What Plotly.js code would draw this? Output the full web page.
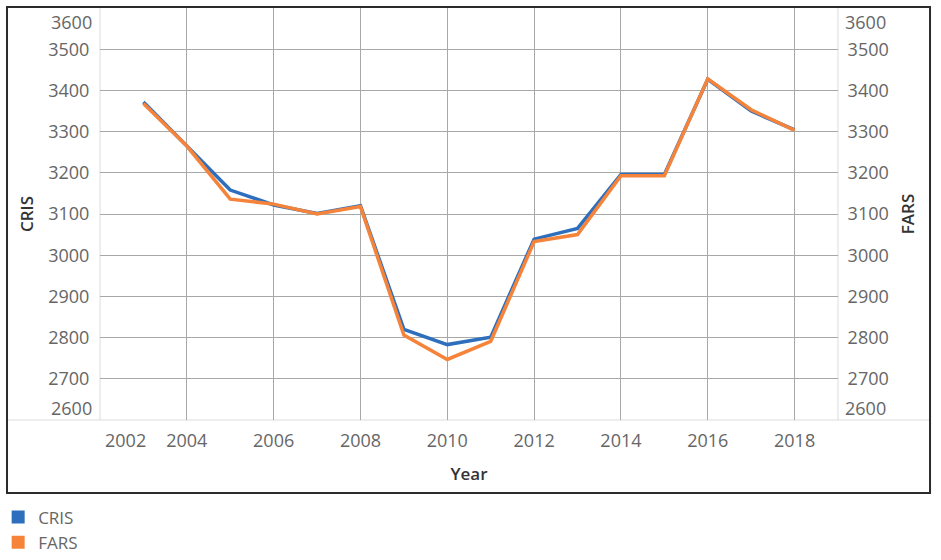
<!DOCTYPE html>
<html>
<head>
<meta charset="utf-8">
<script src="https://cdn.plot.ly/plotly-3.0.1.min.js"></script>
<style>html,body{margin:0;padding:0;background:#fff;}#chart{width:941px;height:560px;}</style>
</head>
<body>
<div id="chart"></div>
<script>
// ---- data ----
var years = [2003, 2004, 2005, 2006, 2007, 2008, 2009, 2010, 2011, 2012, 2013, 2014, 2015, 2016, 2017, 2018];
var cris  = [3372, 3266, 3158, 3122, 3101, 3120, 2820, 2783, 2801, 3039, 3065, 3196, 3196, 3427, 3350, 3304];
var fars  = [3368, 3265, 3136, 3124, 3100, 3118, 2806, 2747, 2791, 3033, 3050, 3193, 3193, 3428, 3353, 3303];
var xTicks = [2002, 2004, 2006, 2008, 2010, 2012, 2014, 2016, 2018];
var yTicks = [2600, 2700, 2800, 2900, 3000, 3100, 3200, 3300, 3400, 3500, 3600];
var seriesNames = ['CRIS', 'FARS'];
var xTitle = 'Year';

// ---- styling ----
var blue = '#2e6fbd', orange = '#f5843a';
var tickFont = {family: 'Open Sans, sans-serif', size: 18, color: '#666666'};
var titleFont = {family: 'Open Sans, sans-serif', size: 17, color: '#333333', weight: 600};
var gridColor = '#a8a8a8', edgeColor = '#dcdcdc';

var yMin = yTicks[0], yMax = yTicks[yTicks.length - 1];
var innerY = yTicks.slice(1, -1);
var innerX = xTicks.slice(1);

var traces = [
  {x: years, y: cris, name: seriesNames[0], type: 'scatter', mode: 'lines', yaxis: 'y',
   line: {color: blue, width: 3.5}, showlegend: false, hoverinfo: 'skip'},
  {x: years, y: fars, name: seriesNames[1], type: 'scatter', mode: 'lines', yaxis: 'y2',
   line: {color: orange, width: 3.5}, showlegend: false, hoverinfo: 'skip'},
  {x: [null], y: [null], name: seriesNames[0], type: 'scatter', mode: 'markers',
   marker: {symbol: 'square', size: 13, color: blue}, showlegend: true},
  {x: [null], y: [null], name: seriesNames[1], type: 'scatter', mode: 'markers',
   marker: {symbol: 'square', size: 13, color: orange}, showlegend: true}
];

// end-of-axis tick labels, nudged inward like the reference
var annotations = [
  {x: 0, xref: 'paper', y: yTicks[yTicks.length - 1], yref: 'y', text: String(yTicks[yTicks.length - 1]),
   xanchor: 'right', yanchor: 'middle', xshift: -6, yshift: -14, showarrow: false, font: tickFont},
  {x: 0, xref: 'paper', y: yTicks[0], yref: 'y', text: String(yTicks[0]),
   xanchor: 'right', yanchor: 'middle', xshift: -6, yshift: 12, showarrow: false, font: tickFont},
  {x: 1, xref: 'paper', y: yTicks[yTicks.length - 1], yref: 'y', text: String(yTicks[yTicks.length - 1]),
   xanchor: 'left', yanchor: 'middle', xshift: 5, yshift: -14, showarrow: false, font: tickFont},
  {x: 1, xref: 'paper', y: yTicks[0], yref: 'y', text: String(yTicks[0]),
   xanchor: 'left', yanchor: 'middle', xshift: 5, yshift: 12, showarrow: false, font: tickFont},
  {x: xTicks[0], xref: 'x', y: 0, yref: 'paper', text: String(xTicks[0]),
   xanchor: 'center', yanchor: 'middle', xshift: 25, yshift: -20, showarrow: false, font: tickFont}
];

var shapes = [
  // outer frame
  {type: 'rect', xref: 'paper', yref: 'paper', x0: -0.126, x1: 1.1247, y0: -0.1772, y1: 1.0024,
   line: {color: '#2b2b2b', width: 2}, layer: 'above'},
  // plot edges
  {type: 'line', xref: 'paper', yref: 'paper', x0: -0.126, x1: 1.1247, y0: 0, y1: 0,
   line: {color: edgeColor, width: 1}, layer: 'below'},
  {type: 'line', xref: 'paper', yref: 'paper', x0: 0, x1: 0, y0: 0, y1: 1,
   line: {color: edgeColor, width: 1}, layer: 'below'},
  {type: 'line', xref: 'paper', yref: 'paper', x0: 1, x1: 1, y0: 0, y1: 1,
   line: {color: edgeColor, width: 1}, layer: 'below'}
];

var layout = {
  width: 941, height: 560,
  margin: {l: 100, r: 103, t: 8, b: 140, autoexpand: false},
  paper_bgcolor: '#ffffff', plot_bgcolor: '#ffffff',
  font: {family: 'Open Sans, sans-serif', color: '#555555'},
  xaxis: {
    range: [2002, 2019], tickvals: innerX, ticktext: innerX.map(String), automargin: false,
    showgrid: true, gridcolor: gridColor, gridwidth: 1, zeroline: false, showline: false,
    ticks: 'outside', ticklen: 4, tickcolor: 'rgba(0,0,0,0)', tickfont: tickFont,
    title: {text: xTitle, font: titleFont, standoff: 17}, fixedrange: true
  },
  yaxis: {
    range: [yMin, yMax], tickvals: innerY, ticktext: innerY.map(String), automargin: false,
    showgrid: true, gridcolor: gridColor, gridwidth: 1, zeroline: false, showline: false,
    ticks: 'outside', ticklen: 6, tickcolor: 'rgba(0,0,0,0)', tickfont: tickFont,
    title: {text: seriesNames[0], font: titleFont, standoff: 10}, fixedrange: true
  },
  yaxis2: {
    range: [yMin, yMax], tickvals: innerY, ticktext: innerY.map(String), automargin: false,
    overlaying: 'y', side: 'right', showgrid: false, zeroline: false, showline: false,
    ticks: 'outside', ticklen: 5, tickcolor: 'rgba(0,0,0,0)', tickfont: tickFont,
    title: {text: seriesNames[1], font: titleFont, standoff: 14}, fixedrange: true
  },
  showlegend: true,
  legend: {
    orientation: 'v', x: -0.138, xanchor: 'left', y: -0.193, yanchor: 'top',
    font: {family: 'Open Sans, sans-serif', size: 17, color: '#666666'},
    bgcolor: 'rgba(0,0,0,0)', borderwidth: 0, tracegroupgap: 0
  },
  annotations: annotations,
  shapes: shapes
};

Plotly.newPlot('chart', traces, layout, {staticPlot: true, displayModeBar: false});
</script>
</body>
</html>
